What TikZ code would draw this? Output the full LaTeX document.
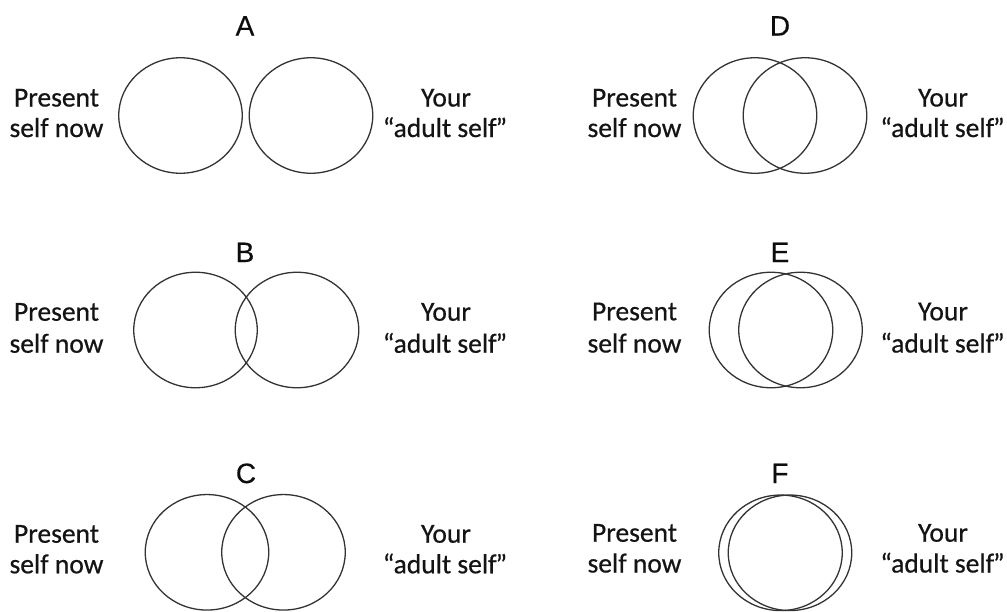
\documentclass[tikz,border=0pt]{standalone}
\usepackage{fontspec}
\setmainfont{Carlito}[FakeBold=0.6]
\newfontfamily\letterfont{Liberation Sans}[FakeBold=0.4]
\usetikzlibrary{shapes.geometric}
\newcommand{\adultself}{“adult self\kern-1pt”}
\begin{document}
\begin{tikzpicture}[x=1pt,y=-1pt,
  ring/.style={draw=black!80, line width=1.3pt, ellipse, minimum width=123.5pt, minimum height=115.5pt, inner sep=0pt},
  caption/.style={font=\fontsize{27.5}{30}\selectfont, text=black!92, anchor=base, inner sep=0pt},
  panel/.style={font=\letterfont\fontsize{28}{30}\selectfont, text=black!95, anchor=base, inner sep=0pt}]
\useasboundingbox (0,0) rectangle (1007,611);
% ---- A ----
\node[panel] (lA) at (245,35.5) {A};
\node[ring] (A1) at (180.5,115.5) {};
\node[ring] (A2) at (311,115.5) {};
\node[caption] (pA1) at (56.5,106.5) {Present};
\node[caption] (pA2) at (56.5,137) {self now};
\node[caption] (yA1) at (446,106.5) {Your};
\node[caption] (yA2) at (445,137) {\adultself};
% ---- D ----
\node[panel] (lD) at (780,35.5) {D};
\node[ring] (D1) at (755,115.5) {};
\node[ring] (D2) at (805,115.5) {};
\node[caption] (pD1) at (634.5,106.5) {Present};
\node[caption] (pD2) at (634.5,137) {self now};
\node[caption] (yD1) at (943,106.5) {Your};
\node[caption] (yD2) at (942.5,137) {\adultself};
% ---- B ----
\node[panel] (lB) at (245,262) {B};
\node[ring] (B1) at (195.5,330) {};
\node[ring] (B2) at (297,330) {};
\node[caption] (pB1) at (56.5,320.7) {Present};
\node[caption] (pB2) at (56.5,352.7) {self now};
\node[caption] (yB1) at (446,320.7) {Your};
\node[caption] (yB2) at (445,352.7) {\adultself};
% ---- E ----
\node[panel] (lE) at (780,262) {E};
\node[ring] (E1) at (771,330) {};
\node[ring] (E2) at (800.5,330) {};
\node[caption] (pE1) at (634.5,320.3) {Present};
\node[caption] (pE2) at (634.5,352.5) {self now};
\node[caption] (yE1) at (943,320.3) {Your};
\node[caption] (yE2) at (942.5,352.5) {\adultself};
% ---- C ----
\node[panel] (lC) at (246,483) {C};
\node[ring] (C1) at (207,552.3) {};
\node[ring] (C2) at (283.5,552.3) {};
\node[caption] (pC1) at (56.5,542.7) {Present};
\node[caption] (pC2) at (56.5,573.3) {self now};
\node[caption] (yC1) at (446,542.7) {Your};
\node[caption] (yC2) at (445,573.3) {\adultself};
% ---- F ----
\node[panel] (lF) at (780,483) {F};
\node[ring] (F1) at (780.5,552.8) {};
\node[ring] (F2) at (790,552.8) {};
\node[caption] (pF1) at (634.5,541.7) {Present};
\node[caption] (pF2) at (634.5,572.5) {self now};
\node[caption] (yF1) at (943,541.7) {Your};
\node[caption] (yF2) at (942.5,572.5) {\adultself};
\end{tikzpicture}
\end{document}
